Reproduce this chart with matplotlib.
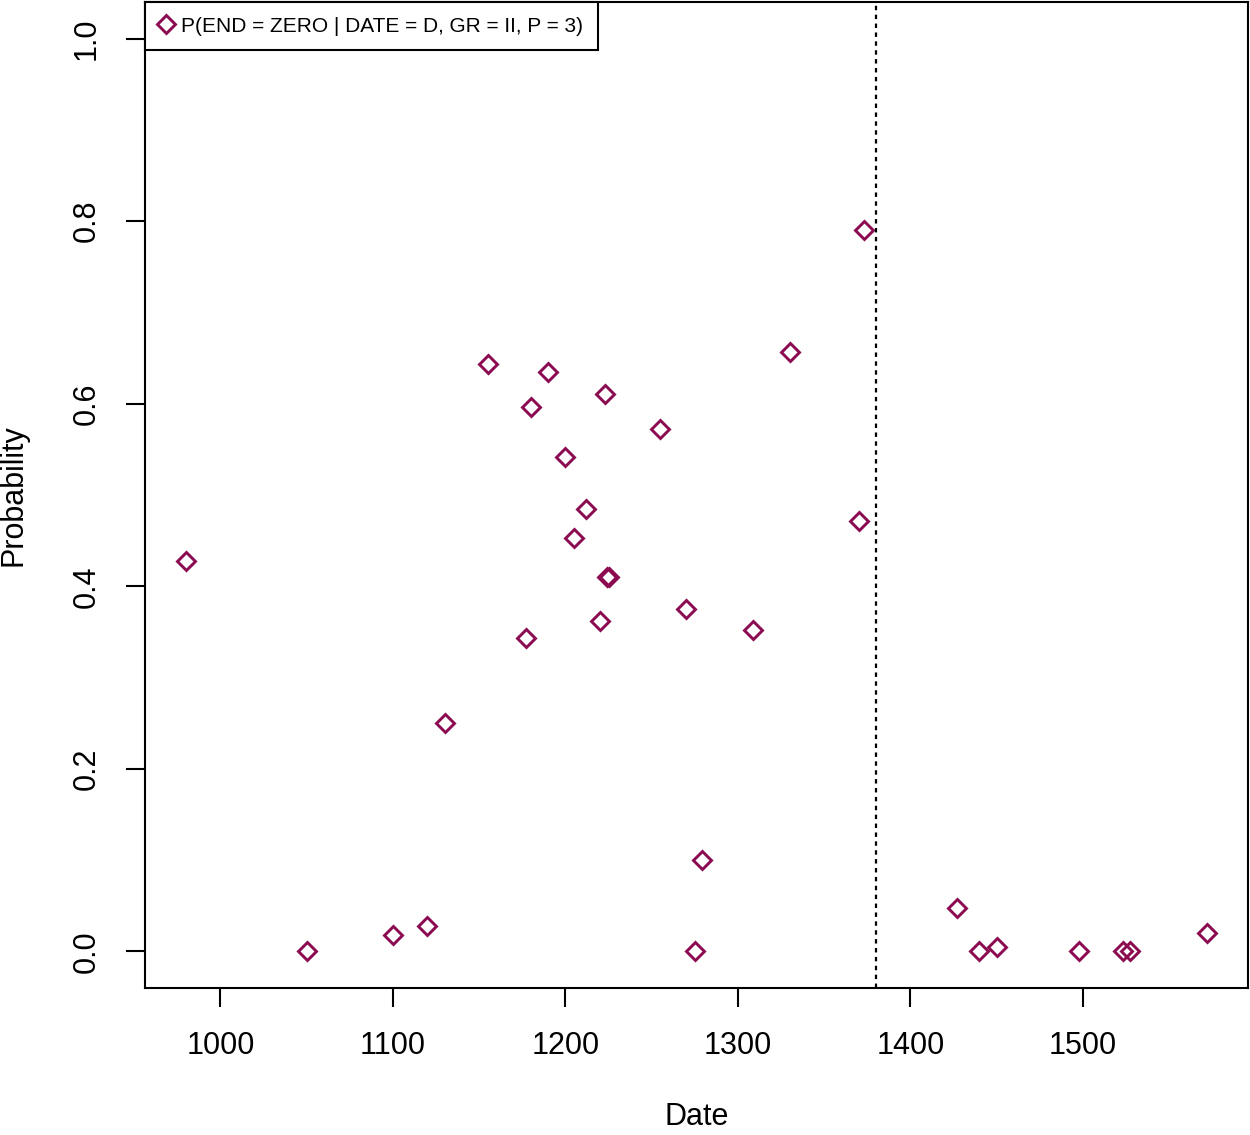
import matplotlib.pyplot as plt

plt.rcParams['font.family'] = ['Liberation Sans', 'DejaVu Sans']

dates = [980, 1050, 1100, 1120, 1130, 1155, 1177, 1180, 1190, 1200,
         1205, 1212, 1220, 1223, 1224, 1225, 1255, 1270, 1275, 1279,
         1309, 1330, 1370, 1373, 1427, 1440, 1450, 1498, 1523, 1527, 1572]
probs = [0.428, 0.0, 0.018, 0.028, 0.250, 0.643, 0.343, 0.596, 0.635, 0.542,
         0.453, 0.485, 0.362, 0.611, 0.410, 0.410, 0.572, 0.375, 0.0, 0.100,
         0.352, 0.657, 0.472, 0.790, 0.048, 0.0, 0.005, 0.0, 0.0, 0.0, 0.020]
cutoff = 1380
legend_label = "P(END = ZERO | DATE = D, GR = II, P = 3)"
col = "#8B0A50"

fig = plt.figure(figsize=(12.5, 11.35), dpi=100)
ax = fig.add_axes([0.116, 0.1295, 0.8824, 0.8687])

ax.plot(dates, probs, linestyle='none', marker='D', markersize=9.5,
        markerfacecolor='none', markeredgecolor=col, markeredgewidth=2.1,
        label=legend_label)
ax.axvline(cutoff, color='black', linestyle=(0, (2, 2)), linewidth=1.6)

span = max(dates) - min(dates)
ax.set_xlim(min(dates) - 0.04 * span, max(dates) + 0.04 * span)
ax.set_ylim(-0.04, 1.04)
ax.set_xticks([1000, 1100, 1200, 1300, 1400, 1500])
ax.set_yticks([0.0, 0.2, 0.4, 0.6, 0.8, 1.0])
ax.set_yticklabels(["0.0", "0.2", "0.4", "0.6", "0.8", "1.0"], rotation=90, va='center')

ax.tick_params(axis='both', labelsize=22, length=14, width=1.5, pad=17)
for s in ax.spines.values():
    s.set_linewidth(1.5)

ax.set_xlabel("Date", fontsize=22, va='center')
ax.set_ylabel("Probability", fontsize=22, va='center')
ax.xaxis.set_label_coords(0.5, -0.131)
ax.yaxis.set_label_coords(-0.119, 0.5)

leg = ax.legend(loc='upper left', borderaxespad=0, fancybox=False,
                edgecolor='black', fontsize=15, handletextpad=0.45,
                handlelength=0.6, borderpad=0.7, framealpha=1)
leg.get_frame().set_linewidth(1.5)

fig.savefig("out.png", dpi=100)
